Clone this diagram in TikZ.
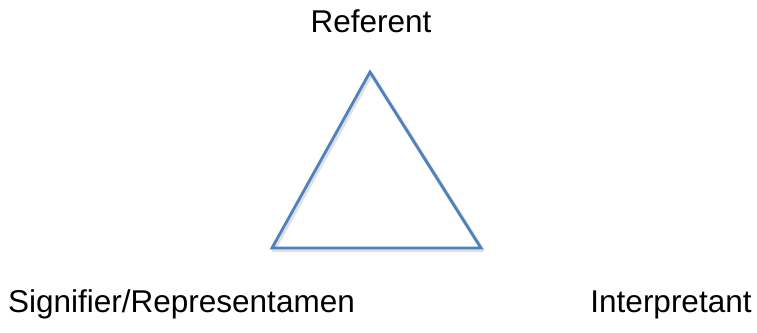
\documentclass[tikz,border=0pt]{standalone}
\usepackage{fontspec}
\setmainfont{Liberation Sans}
\definecolor{triblue}{RGB}{79,129,189}
\begin{document}
\begin{tikzpicture}[x=1pt,y=-1pt,
  lbl/.style={font=\fontsize{31.5}{36}\selectfont, anchor=base, inner sep=0pt},
  edge/.style={draw=triblue, line width=2.8pt, line join=miter},
  shade/.style={draw=black!12, line width=4pt, line join=round}]
\useasboundingbox (0,0) rectangle (757,332);
\coordinate (T) at (370,72);
\coordinate (L) at (272,248);
\coordinate (R) at (481,248);
\path[shade] ([shift={(1.5,2)}]T) -- ([shift={(1.5,2)}]L) -- ([shift={(1.5,2)}]R) -- cycle;
\path[edge] (T) -- (L) -- (R) -- cycle;
\node[lbl] (ref) at (371,32) {Referent};
\node[lbl] (sig) at (181.5,312) {Signifier/Representamen};
\node[lbl] (int) at (671,312) {Interpretant};
\end{tikzpicture}
\end{document}
